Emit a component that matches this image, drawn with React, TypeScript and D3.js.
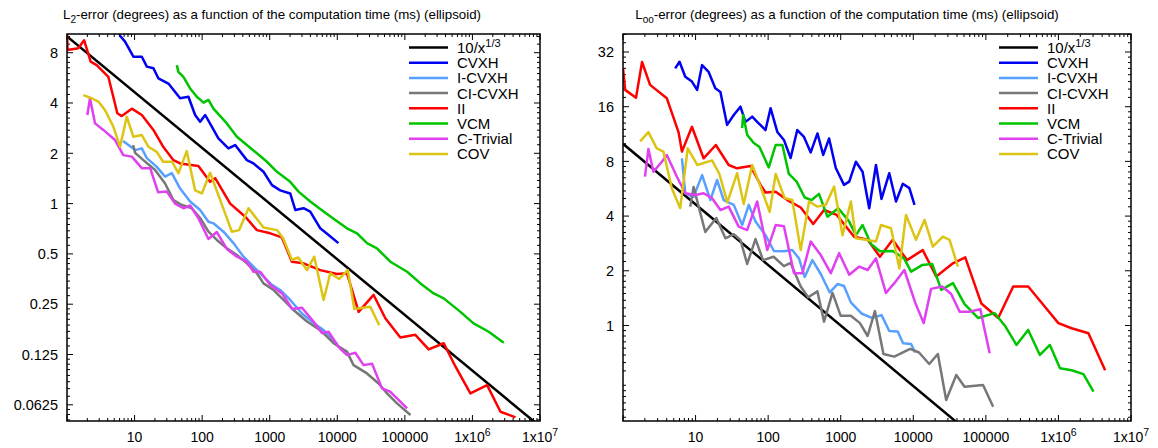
import React from 'react';
import * as d3 from 'd3';

type Pt = [number, number];

const seriesNames = ['10/x', 'CVXH', 'I-CVXH', 'CI-CVXH', 'II', 'VCM', 'C-Trivial', 'COV'];
const seriesColors = ['#000000', '#0000f2', '#58a0ff', '#777777', '#ff0000', '#00c400', '#e040f0', '#dcc414'];

// reference line 10/x^(1/3), both ends
const refLine: Pt[] = [[1, 10], [1e7, 0.0464]];

// L2 error vs time (ms)
const l2CVXH: Pt[] = [[5.96, 10.2], [7.23, 9.31], [9.6, 7.57], [12.8, 7.57], [15.2, 6.6], [19, 6.46], [22.5, 5.62], [31.7, 5.23], [47.2, 4.27], [62.7, 4.36], [78.7, 3.39], [93.4, 3.09], [111, 3.39], [139, 2.89], [174, 2.46], [245, 2.14], [308, 2.24], [459, 1.82], [575, 1.74], [809, 1.55], [1080, 1.29], [1430, 1.2], [2010, 1.15], [2390, 0.916], [3170, 0.938], [3980, 0.896], [5600, 0.711], [7430, 0.649], [10400, 0.58]];
const l2ICVXH: Pt[] = [[6.76, 2.37], [10.2, 2.09], [12.8, 2.14], [15.2, 1.87], [21.3, 1.66], [28.3, 1.45], [35.6, 1.52], [47.2, 1.23], [66.4, 1.03], [93.4, 0.916], [124, 0.779], [147, 0.762], [207, 0.679], [291, 0.58], [409, 0.481], [575, 0.419], [809, 0.365], [1080, 0.326], [1430, 0.304], [2010, 0.265], [3000, 0.22], [4450, 0.193], [6270, 0.175], [7870, 0.159], [10000, 0.144]];
const l2CICVXH: Pt[] = [[9.5, 2.24], [10.2, 2.01], [13.5, 1.82], [20.1, 1.59], [28.3, 1.32], [37.6, 1.05], [50, 0.981], [70.3, 0.938], [93.4, 0.82], [124, 0.679], [165, 0.606], [232, 0.54], [327, 0.492], [459, 0.439], [646, 0.383], [809, 0.333], [1140, 0.304], [1600, 0.265], [2250, 0.231], [3560, 0.197], [5600, 0.175], [8810, 0.146], [13900, 0.13], [17400, 0.108], [27500, 0.0963], [40900, 0.0839], [54500, 0.0732], [76600, 0.0637], [121000, 0.0543]];
const l2II: Pt[] = [[1, 10.6], [1.02, 8.3], [1.47, 8.5], [1.79, 9.5], [2.24, 7.08], [2.75, 6.74], [4.09, 5.74], [5.56, 3.47], [6.46, 3.34], [9.1, 3.7], [12.8, 3.39], [19, 2.76], [26.7, 2.18], [37.6, 1.82], [47.2, 1.74], [88, 1.68], [131, 1.35], [156, 1.42], [260, 1.0], [434, 0.835], [646, 0.694], [1020, 0.664], [1510, 0.628], [2130, 0.449], [3160, 0.439], [5600, 0.4], [9900, 0.379], [13900, 0.383], [20700, 0.225], [34500, 0.284], [51400, 0.206], [85700, 0.158], [143000, 0.164], [225000, 0.134], [376000, 0.146], [560000, 0.106], [933000, 0.0732], [1.65e6, 0.082], [2.6e6, 0.0568], [4.34e6, 0.0526]];
const l2VCM: Pt[] = [[42.2, 6.74], [44.5, 6.14], [52.8, 5.74], [66.4, 4.89], [83.4, 4.36], [105, 4.02], [124, 4.17], [147, 3.7], [232, 3.02], [327, 2.51], [459, 2.24], [646, 2.0], [909, 1.78], [1280, 1.55], [2010, 1.35], [2670, 1.18], [3980, 1.03], [6270, 0.896], [9340, 0.797], [13900, 0.711], [19600, 0.664], [27500, 0.58], [38700, 0.54], [61000, 0.449], [108000, 0.391], [170000, 0.333], [267000, 0.29], [376000, 0.271], [664000, 0.225], [1.04e6, 0.192], [1.74e6, 0.171], [2.91e6, 0.147]];
const l2CTrivial: Pt[] = [[2.0, 3.39], [2.19, 4.27], [2.6, 3.02], [3.45, 2.76], [5.14, 2.4], [6.82, 1.95], [9.1, 1.91], [12.8, 1.63], [17, 1.63], [22.3, 1.17], [30, 1.18], [39.8, 1.0], [52.8, 0.938], [66.4, 0.974], [88, 0.817], [124, 0.614], [165, 0.676], [232, 0.535], [327, 0.481], [459, 0.449], [575, 0.391], [723, 0.391], [1020, 0.326], [1520, 0.29], [2150, 0.234], [3000, 0.238], [4450, 0.197], [5930, 0.168], [7430, 0.171], [10400, 0.139], [13900, 0.124], [18500, 0.128], [24500, 0.108], [32700, 0.11], [45900, 0.0784], [61000, 0.0748], [76600, 0.0683], [108000, 0.0595]];
const l2COV: Pt[] = [[1.74, 4.46], [2.32, 4.27], [2.91, 4.08], [3.66, 3.62], [4.85, 2.89], [6.1, 2.19], [7.66, 3.31], [9.6, 2.51], [12.8, 2.57], [16, 2.19], [21.3, 2.04], [26.4, 1.78], [35.9, 1.78], [44.5, 1.52], [59.3, 2.06], [78.7, 1.2], [99, 1.15], [131, 1.53], [179, 1.09], [275, 0.679], [353, 0.694], [485, 0.938], [809, 0.719], [1280, 0.694], [1580, 0.62], [2130, 0.46], [2640, 0.476], [3560, 0.4], [4560, 0.481], [6270, 0.265], [7870, 0.383], [10700, 0.354], [14300, 0.4], [17900, 0.234], [30800, 0.241], [41900, 0.187]];

// Loo error vs time (ms)
const liCVXH: Pt[] = [[5.24, 26.0], [6.01, 28.3], [7.21, 23.4], [8.91, 22.0], [10.5, 19.8], [12.3, 27.1], [15.1, 24.9], [18.7, 20.2], [22, 19.3], [27.2, 12.7], [33.6, 14.4], [41.5, 16.0], [48.7, 13.2], [60.3, 14.1], [70.6, 13.2], [92, 11.9], [108, 15.7], [134, 11.6], [165, 10.5], [204, 8.35], [252, 11.9], [312, 10.9], [386, 8.96], [478, 11.4], [574, 8.68], [692, 10.7], [855, 7.36], [1110, 5.94], [1310, 6.19], [1620, 7.97], [2000, 7.02], [2470, 4.42], [3060, 7.64], [3650, 4.97], [4670, 6.89], [5780, 4.81], [7160, 6.02], [8830, 5.7], [10400, 4.61]];
const liICVXH: Pt[] = [[6.49, 8.32], [7.21, 5.34], [9.38, 5.1], [12.3, 6.72], [16, 4.9], [19.8, 6.32], [24.4, 4.9], [33.6, 4.61], [43.8, 3.57], [54.1, 4.61], [67, 3.73], [92, 3.14], [120, 2.57], [165, 2.56], [215, 2.6], [266, 2.34], [319, 1.85], [407, 2.29], [531, 1.92], [707, 1.52], [903, 1.69], [1110, 1.65], [1380, 1.34], [1960, 1.16], [2690, 1.1], [3650, 1.14], [4670, 0.932], [6100, 0.927], [7230, 0.798], [9330, 0.791], [10600, 0.71]];
const liCICVXH: Pt[] = [[8.45, 4.51], [9.38, 5.79], [13.6, 3.27], [19.3, 3.9], [25.8, 3.02], [33.6, 3.18], [41.5, 2.96], [51.4, 2.18], [67, 2.99], [85, 2.29], [119, 2.39], [165, 2.12], [204, 2.21], [281, 1.64], [356, 1.43], [478, 1.54], [589, 1.05], [771, 1.51], [1000, 1.13], [1380, 1.13], [1840, 1.03], [2350, 0.875], [2960, 1.2], [3880, 0.697], [5480, 0.674], [9040, 0.743], [12000, 0.71], [16600, 0.614], [21800, 0.697], [28400, 0.389], [39100, 0.534], [50900, 0.46], [91500, 0.47], [126000, 0.357]];
const liII: Pt[] = [[1, 26.1], [1.07, 19.8], [1.51, 17.9], [1.83, 28.2], [2.36, 21.1], [4.02, 17.8], [5.82, 11.6], [6.49, 9.05], [8.91, 12.4], [12.9, 8.32], [19, 9.85], [28.6, 7.64], [37.4, 7.33], [57.1, 7.55], [78.5, 5.94], [92, 5.39], [127, 5.45], [184, 4.9], [281, 4.46], [418, 3.62], [589, 4.32], [883, 4.06], [1530, 3.08], [2350, 2.96], [3470, 2.39], [5200, 2.96], [8200, 2.29], [13500, 2.6], [20700, 1.86], [35200, 2.2], [52000, 2.37], [86700, 1.32], [148000, 1.1], [238000, 1.64], [383000, 1.64], [618000, 1.3], [998000, 1.03], [1.52e6, 0.965], [2.59e6, 0.906], [4.4e6, 0.567]];
const liVCM: Pt[] = [[43.8, 12.2], [45.3, 14.4], [51.4, 11.2], [63.4, 10.1], [76, 9.6], [102, 7.41], [127, 9.85], [157, 9.85], [193, 6.82], [247, 6.19], [319, 5.06], [398, 4.9], [502, 5.3], [656, 3.97], [927, 4.42], [1310, 3.73], [1620, 3.14], [2000, 3.57], [2610, 2.81], [3470, 2.56], [5200, 2.57], [7460, 2.34], [9330, 1.98], [13200, 2.15], [18200, 2.18], [24300, 1.57], [35200, 1.71], [50900, 1.31], [78000, 1.1], [132000, 1.17], [182000, 1.0], [264000, 0.781], [383000, 0.945], [555000, 0.688], [763000, 0.781], [1.05e6, 0.582], [1.52e6, 0.567], [2.21e6, 0.54], [3.04e6, 0.432]];
const liCTrivial: Pt[] = [[2.01, 6.59], [2.24, 9.37], [2.62, 7.02], [3.43, 7.97], [4.02, 8.68], [5.53, 6.59], [7.21, 5.34], [9.91, 5.23], [12.9, 5.34], [16.9, 5.02], [22, 4.32], [28.6, 4.51], [39.3, 3.5], [51.4, 3.35], [70.6, 4.81], [97.2, 2.6], [127, 3.57], [165, 3.52], [227, 1.94], [296, 1.94], [386, 2.9], [531, 2.44], [730, 1.94], [951, 2.5], [1310, 1.9], [1800, 2.11], [2350, 2.02], [3060, 2.34], [4200, 1.51], [5480, 1.71], [7530, 2.02], [10600, 1.34], [13900, 1.03], [17600, 1.59], [25000, 1.64], [33300, 1.49], [43500, 1.19], [59200, 1.19], [83900, 1.23], [96200, 0.945], [113000, 0.703]];
const liCOV: Pt[] = [[1.72, 10.3], [2.24, 11.6], [2.92, 9.44], [3.61, 9.05], [4.72, 5.67], [6.14, 4.42], [7.8, 9.44], [10.6, 7.64], [16.9, 8.1], [21.3, 6.82], [27.4, 4.76], [37.4, 6.89], [46.1, 4.66], [60.3, 7.64], [78.5, 5.81], [105, 4.22], [127, 6.82], [169, 5.02], [215, 4.9], [281, 2.6], [366, 4.81], [478, 4.51], [622, 4.61], [811, 5.81], [1060, 3.14], [1380, 4.81], [1620, 3.02], [2220, 2.96], [3060, 2.9], [3590, 3.57], [4930, 3.43], [6430, 2.06], [7940, 4.06], [10900, 2.96], [14300, 3.81], [18600, 2.72], [25600, 3.08], [31600, 2.96], [41200, 2.11]];

const xTickExps = [1, 2, 3, 4, 5, 6, 7];
const xTickLabels = ['10', '100', '1000', '10000', '100000', '1x10', '1x10'];
const xTickSups = ['', '', '', '', '', '6', '7'];
const l2YTicks = [0.0625, 0.125, 0.25, 0.5, 1, 2, 4, 8];
const l2YLabels = ['0.0625', '0.125', '0.25', '0.5', '1', '2', '4', '8'];
const liYTicks = [1, 2, 4, 8, 16, 32];
const liYLabels = ['1', '2', '4', '8', '16', '32'];

const FONT = '"Liberation Sans", Arial, Helvetica, sans-serif';
const TOP = 34;
const BOTTOM = 421;

interface PanelProps {
  id: string;
  x0: number;
  x1: number;
  yDomain: [number, number];
  yTicks: number[];
  yLabels: string[];
  series: Pt[][];
  titleX: number;
  titleSub: string;
  legendX: number;
}

function Panel(p: PanelProps) {
  const x = d3.scaleLog().domain([1, 1e7]).range([p.x0, p.x1]);
  const y = d3.scaleLog().base(2).domain(p.yDomain).range([BOTTOM, TOP]);
  const line = d3.line<Pt>().x((d) => x(d[0])).y((d) => y(d[1]));

  const xMinor: number[] = [];
  for (let k = 0; k < 7; k++) for (let j = 2; j <= 9; j++) xMinor.push(j * Math.pow(10, k));
  const xMajor = [1, ...xTickExps.map((e) => Math.pow(10, e))];

  const yMinor: number[] = [];
  const lo = Math.floor(Math.log2(p.yDomain[0]));
  const hi = Math.ceil(Math.log2(p.yDomain[1]));
  for (let k = lo; k < hi; k++) {
    const b = Math.pow(2, k);
    for (let m = 1; m < 8; m++) {
      const v = b * (1 + m / 8);
      if (v > p.yDomain[0] && v < p.yDomain[1]) yMinor.push(v);
    }
  }

  return (
    <g>
      <defs>
        <clipPath id={p.id}>
          <rect x={p.x0} y={TOP} width={p.x1 - p.x0} height={BOTTOM - TOP} />
        </clipPath>
      </defs>
      <text x={p.titleX} y={18.5} textAnchor="middle" fontSize={13.3} fontFamily={FONT}>
        L<tspan dy={4} fontSize={10}>{p.titleSub}</tspan>
        <tspan dy={-4}>-error (degrees) as a function of the computation time (ms) (ellipsoid)</tspan>
      </text>

      <g stroke="#000" strokeWidth={1}>
        {xMinor.map((v, i) => (
          <g key={'xm' + i}>
            <line x1={x(v)} x2={x(v)} y1={BOTTOM} y2={BOTTOM - 3} />
            <line x1={x(v)} x2={x(v)} y1={TOP} y2={TOP + 3} />
          </g>
        ))}
        {xMajor.map((v, i) => (
          <g key={'xM' + i}>
            <line x1={x(v)} x2={x(v)} y1={BOTTOM} y2={BOTTOM - 6} />
            <line x1={x(v)} x2={x(v)} y1={TOP} y2={TOP + 6} />
          </g>
        ))}
        {yMinor.map((v, i) => (
          <g key={'ym' + i}>
            <line x1={p.x0} x2={p.x0 + 3} y1={y(v)} y2={y(v)} />
            <line x1={p.x1} x2={p.x1 - 3} y1={y(v)} y2={y(v)} />
          </g>
        ))}
        {p.yTicks.map((v, i) => (
          <g key={'yM' + i}>
            <line x1={p.x0} x2={p.x0 + 6} y1={y(v)} y2={y(v)} />
            <line x1={p.x1} x2={p.x1 - 6} y1={y(v)} y2={y(v)} />
          </g>
        ))}
      </g>

      <g fontFamily={FONT}>
        {xTickExps.map((e, i) => (
          <text key={'xl' + i} x={x(Math.pow(10, e))} y={442} textAnchor="middle" fontSize={14}>
            {xTickLabels[i]}
            {xTickSups[i] && <tspan dy={-6} fontSize={10.5}>{xTickSups[i]}</tspan>}
          </text>
        ))}
        {p.yTicks.map((v, i) => (
          <text key={'yl' + i} x={p.x0 - 9} y={y(v)} dy="0.36em" textAnchor="end" fontSize={14.5}>
            {p.yLabels[i]}
          </text>
        ))}
      </g>

      <g clipPath={`url(#${p.id})`} fill="none" strokeWidth={2.5} strokeLinejoin="round">
        {p.series.map((s, i) => (
          <path key={'s' + i} d={line(s) || ''} stroke={seriesColors[i]} />
        ))}
      </g>

      <g fontSize={15} fontFamily={FONT}>
        {seriesNames.map((n, i) => {
          const ly = 47.5 + i * 15.2;
          return (
            <g key={'lg' + i}>
              <line x1={p.legendX} x2={p.legendX + 39} y1={ly} y2={ly} stroke={seriesColors[i]} strokeWidth={2.5} />
              <text x={p.legendX + 48} y={ly} dy="0.36em">
                {n}
                {i === 0 && <tspan dy={-6} fontSize={11}>1/3</tspan>}
              </text>
            </g>
          );
        })}
      </g>

      <rect x={p.x0} y={TOP} width={p.x1 - p.x0} height={BOTTOM - TOP} fill="none" stroke="#000" strokeWidth={1.5} />
    </g>
  );
}

export default function App() {
  return (
    <svg width={1158} height={448} style={{ position: 'absolute', left: 0, top: 0, background: '#fff' }}>
      <rect width={1158} height={448} fill="#fff" />
      <Panel
        id="clip-l2"
        x0={67}
        x1={540}
        yDomain={[0.05, 10.35]}
        yTicks={l2YTicks}
        yLabels={l2YLabels}
        series={[refLine, l2CVXH, l2ICVXH, l2CICVXH, l2II, l2VCM, l2CTrivial, l2COV]}
        titleX={272}
        titleSub="2"
        legendX={409}
      />
      <Panel
        id="clip-li"
        x0={623}
        x1={1131}
        yDomain={[0.298, 40.2]}
        yTicks={liYTicks}
        yLabels={liYLabels}
        series={[refLine, liCVXH, liICVXH, liCICVXH, liII, liVCM, liCTrivial, liCOV]}
        titleX={847}
        titleSub="oo"
        legendX={999}
      />
    </svg>
  );
}
